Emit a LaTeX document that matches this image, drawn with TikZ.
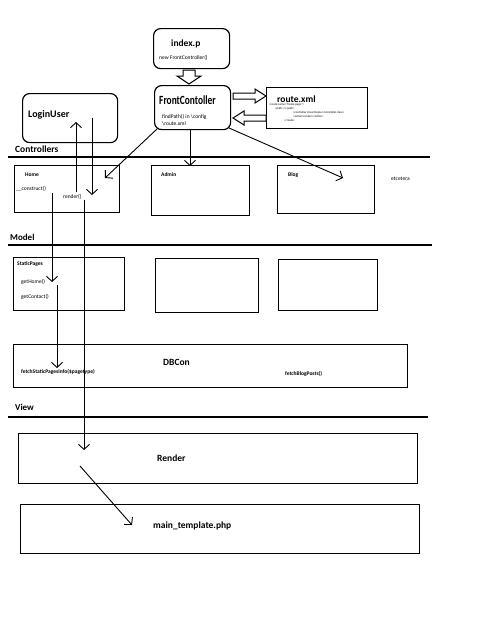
\documentclass[tikz,border=0pt]{standalone}
\usepackage{fontspec}
\setmainfont{Carlito}
\usetikzlibrary{arrows.meta}
\begin{document}
\begin{tikzpicture}[x=1pt,y=-1pt,
 box/.style={draw,line width=1.2pt,inner sep=0pt,anchor=north west},
 rbox/.style={box,rounded corners=7pt},
 lbl/.style={anchor=west,inner sep=0pt},
 tiny/.style={lbl,font=\fontsize{5.5}{6}\selectfont},
 tinyb/.style={lbl,font=\fontsize{5.5}{6}\selectfont\bfseries},
 xml/.style={lbl,font=\fontsize{3}{3}\selectfont},
 big/.style={lbl,font=\fontsize{9.5}{11}\selectfont\bfseries},
 arr/.style={line width=0.9pt,-{Straight Barb[length=5pt,width=11pt]}},
 sep/.style={line width=1.2pt},
 block/.style={draw,fill=white,line width=1pt}]
\useasboundingbox (0,0) rectangle (480,640);
\fill[white] (0,0) rectangle (480,640);

% boxes
\node[rbox,minimum width=76pt,minimum height=40pt] (index) at (153,28) {};
\node[rbox,minimum width=76pt,minimum height=44pt] (front) at (154,85) {};
\node[box,minimum width=101pt,minimum height=41pt] (route) at (266,87) {};
\node[rbox,minimum width=95pt,minimum height=49pt] (login) at (22,93) {};
\node[box,minimum width=105pt,minimum height=47pt] (home) at (14,165) {};
\node[box,minimum width=98pt,minimum height=50pt] (admin) at (151,165) {};
\node[box,minimum width=97pt,minimum height=48pt] (blog) at (277,165) {};
\node[box,minimum width=111pt,minimum height=53pt] (static) at (13,257) {};
\node[box,minimum width=103pt,minimum height=54pt] (mtwo) at (155,258) {};
\node[box,minimum width=99pt,minimum height=51pt] (mthree) at (278,259) {};
\node[box,minimum width=394pt,minimum height=43pt] (dbcon) at (13,344) {};
\node[box,minimum width=399pt,minimum height=50pt] (render) at (18,433) {};
\node[box,minimum width=399pt,minimum height=49pt] (maint) at (20,504) {};

% separators
\coordinate (c1) at (8,157); \coordinate (c2) at (430,157);
\coordinate (m1) at (8,245); \coordinate (m2) at (432,245);
\coordinate (v1) at (8,417); \coordinate (v2) at (428,417);
\draw[sep] (c1) -- (c2);
\draw[sep] (m1) -- (m2);
\draw[sep] (v1) -- (v2);

% texts
\node[lbl,font=\fontsize{9.5}{10}\selectfont\bfseries] (tindex) at (171,44) {index.p};
\node[tiny] (tnew) at (159,58) {new FrontController()};
\node[lbl,font=\fontsize{12.5}{13}\selectfont\bfseries] (tfront) at (159,100) {\scalebox{0.75}[1]{FrontContoller}};
\node[tiny] (tfind) at (162,117) {findPath() in \textbackslash config};
\node[tiny] (troute) at (162,124) {\textbackslash route.xml};
\node[lbl,font=\fontsize{9.5}{11}\selectfont\bfseries] (trx) at (277,99) {route.xml};
\node[xml] (x1) at (269,105) {<route name="home page">};
\node[xml] (x2) at (275,109) {<path>/</path>};
\node[xml] (x3) at (293,113) {<controller class>Home</controller class>};
\node[xml] (x4) at (293,117) {<action>render</action>};
\node[xml] (x5) at (284,121) {</route>};
\node[lbl,font=\fontsize{10}{12}\selectfont\bfseries] (tlogin) at (28,115) {LoginUser};
\node[big] (tctrl) at (15,149) {Controllers};
\node[tinyb] (thome) at (25,175) {Home};
\node[tiny] (tcons) at (16,189) {\_\_construct()};
\node[tiny] (trender) at (63,197) {render()};
\node[tinyb] (tadmin) at (161,175) {Admin};
\node[tinyb] (tblog) at (288,175) {Blog};
\node[tiny] (tetc) at (391,179) {etcetera};
\node[lbl,font=\fontsize{9}{10}\selectfont\bfseries] (tmodel) at (10,237) {Model};
\node[tinyb] (tstatic) at (17,264) {StaticPages};
\node[tiny] (tgethome) at (21,282) {getHome()};
\node[tiny] (tgetcon) at (21,297) {getContact()};
\node[big] (tdb) at (163,362) {DBCon};
\node[tinyb] (tfetch) at (21,372) {fetchStaticPagesInfo(\$pagetype)};
\node[tinyb] (tblogp) at (285,374) {fetchBlogPosts()};
\node[lbl,font=\fontsize{9}{10}\selectfont\bfseries] (tview) at (15,407) {View};
\node[big] (trend) at (157,458) {Render};
\node[big] (tmain) at (153,526) {main\_template.php};

% block arrows
\draw[block] (183,70) -- (195,70) -- (195,76) -- (201,76) -- (189,84) -- (177,76) -- (183,76) -- cycle;
\draw[block] (233,93) -- (255,93) -- (255,89) -- (266,96) -- (255,103) -- (255,99) -- (233,99) -- cycle;
\draw[block] (266,115) -- (244,115) -- (244,111) -- (233,118) -- (244,125) -- (244,121) -- (266,121) -- cycle;

% connector end points
\coordinate (fa) at (157,129); \coordinate (fb) at (105,178);
\coordinate (fc) at (190,129); \coordinate (fd) at (190,166);
\coordinate (fe) at (229,128); \coordinate (ff) at (343,178);
\coordinate (ha) at (76,192); \coordinate (hb) at (76,122);
\coordinate (la) at (92,118); \coordinate (lb) at (92,195);
\coordinate (ca) at (52,193); \coordinate (cb) at (52,282);
\coordinate (ra) at (84,200); \coordinate (rb) at (84,450);
\coordinate (ga) at (57,285); \coordinate (gb) at (57,368);
\coordinate (va) at (80,466); \coordinate (vb) at (132,525);

\draw[arr] (fa) -- (fb);
\draw[arr] (fc) -- (fd);
\draw[arr] (fe) -- (ff);
\draw[arr] (ha) -- (hb);
\draw[arr] (la) -- (lb);
\draw[arr] (ca) -- (cb);
\draw[arr] (ra) -- (rb);
\draw[arr] (ga) -- (gb);
\draw[arr] (va) -- (vb);
\end{tikzpicture}
\end{document}
